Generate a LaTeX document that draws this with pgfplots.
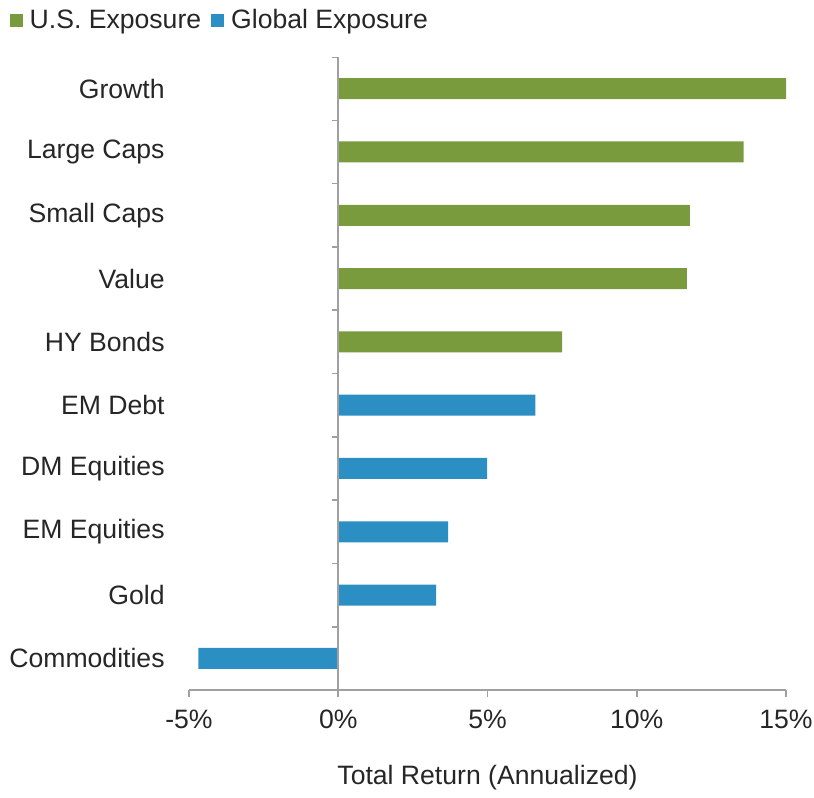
\documentclass[border=0pt]{standalone}
\usepackage{pgfplots}
\pgfplotsset{compat=1.18}
\usepackage{fontspec}
\setmainfont{Liberation Sans}
\definecolor{usgreen}{RGB}{122,154,62}
\definecolor{glblue}{RGB}{43,143,196}
\definecolor{axgray}{RGB}{160,160,160}

\begin{document}
\begin{tikzpicture}
\begin{axis}[
  width=298.5pt, height=316.5pt, scale only axis,
  xmin=-5, xmax=15, ymin=-0.5, ymax=9.5,
  axis x line*=bottom, axis y line*=left,
  y axis line style={draw=none},
  x axis line style={axgray, line width=0.8pt},
  xtick={-5,0,5,10,15},
  xticklabels={-5\%,0\%,5\%,10\%,15\%},
  ytick={0,...,9},
  yticklabels={Commodities,Gold,EM Equities,DM Equities,EM Debt,HY Bonds,Value,Small Caps,Large Caps,Growth},
  tick align=outside,
  major tick length=3.5pt,
  xtick style={axgray, line width=0.8pt},
  ytick style={draw=none},
  tick label style={font=\fontsize{13.3}{15}\selectfont, text=black!85, inner xsep=0pt},
  xticklabel style={yshift=-3pt},
  yticklabel style={anchor=east, xshift=-8.5pt},
  xlabel={Total Return (Annualized)},
  xlabel style={font=\fontsize{13.3}{15}\selectfont, text=black!85,
    at={(axis description cs:0.5,-0.139)}, anchor=center},
  xbar, bar width=10.5pt, bar shift=0pt,
  legend columns=2,
  legend cell align=left,
  legend style={draw=none, fill=none, font=\fontsize{13.3}{15}\selectfont,
    text=black!85, at={(axis description cs:-0.301,1.058)}, anchor=west,
    inner sep=0pt, /tikz/every even column/.append style={column sep=3pt}},
  legend image code/.code={\fill[#1] (0pt,-3.25pt) rectangle (6.5pt,3.25pt);
    \path (8pt,0pt);},
]
  % U.S. exposure
  \addplot[fill=usgreen, draw=none]
    coordinates {(15.03,9) (13.58,8) (11.78,7) (11.68,6) (7.50,5)};
  \addlegendentry{U.S. Exposure}
  % Global exposure
  \addplot[fill=glblue, draw=none]
    coordinates {(6.60,4) (4.99,3) (3.68,2) (3.28,1) (-4.69,0)};
  \addlegendentry{Global Exposure}

  % zero line with category ticks
  \draw[axgray, line width=0.8pt] (axis cs:0,-0.5) -- (axis cs:0,9.5);
  \pgfplotsinvokeforeach{0.5,1.5,...,9.5}{
    \draw[axgray, line width=0.8pt] (axis cs:0,#1) -- ++(-3pt,0pt);
  }
\end{axis}
% page margins as in the reference
\path (current axis.south west) ++(-94.5pt,-51pt)
      (current axis.south west) ++(312.5pt,345pt);
\end{tikzpicture}
\end{document}
